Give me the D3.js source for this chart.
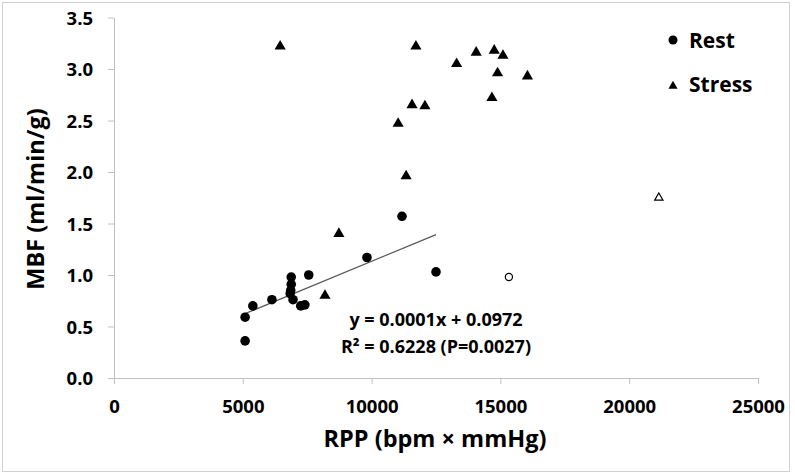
<!DOCTYPE html>
<html>
<head>
<meta charset="utf-8">
<script src="https://cdn.jsdelivr.net/npm/d3@7"></script>
<style>
  body { margin: 0; background: #fff; }
  svg { font-family: "Open Sans", "Liberation Sans", sans-serif; font-weight: bold; }
  .axis path, .axis line { stroke: #c0c0c0; }
  .axis text { font-size: 18.5px; font-weight: bold; fill: #000; font-family: "Open Sans", sans-serif; }
</style>
</head>
<body>
<svg id="chart" width="795" height="475"></svg>
<script>
// Rest (filled circles): RPP, MBF
const restRpp = [5090, 5090, 5390, 6130, 6880, 6880, 6860, 6840, 6950, 7250, 7410, 7560, 9820, 11180, 12500];
const restMbf = [0.59, 0.36, 0.70, 0.76, 0.98, 0.91, 0.85, 0.82, 0.76, 0.70, 0.71, 1.00, 1.17, 1.57, 1.03];
// Stress (filled triangles)
const stressRpp = [6450, 8190, 8730, 11030, 11340, 11570, 12070, 11720, 13300, 14060, 14760, 15100, 14890, 16050, 14670];
const stressMbf = [3.22, 0.80, 1.40, 2.47, 1.96, 2.65, 2.64, 3.22, 3.05, 3.16, 3.18, 3.13, 2.96, 2.93, 2.72];
// Outliers (open markers)
const outlierRest = [15330, 0.98];
const outlierStress = [21150, 1.75];
// Linear fit over rest points
const fitSlope = 0.0001036;
const fitIntercept = 0.0972;
const fitRange = [5090, 12500];
const xTicks = [0, 5000, 10000, 15000, 20000, 25000];
const yTicks = [0, 0.5, 1.0, 1.5, 2.0, 2.5, 3.0, 3.5];
const fitLabels = ['y = 0.0001x + 0.0972', 'R² = 0.6228 (P=0.0027)'];
const legendNames = ['Rest', 'Stress'];

const svg = d3.select('#chart');
const margin = { left: 114, right: 37, top: 17.5, bottom: 97 };
const width = 795 - margin.left - margin.right;
const height = 475 - margin.top - margin.bottom;

svg.append('rect')
  .attr('x', 2.5).attr('y', 2.5)
  .attr('width', 787).attr('height', 469)
  .attr('fill', 'none')
  .attr('stroke', '#d0d0d0');

const x = d3.scaleLinear().domain([0, 25000]).range([0, width]);
const y = d3.scaleLinear().domain([0, 3.5]).range([height, 0]);

const g = svg.append('g')
  .attr('transform', `translate(${margin.left},${margin.top})`);

g.append('g')
  .attr('class', 'axis')
  .attr('transform', `translate(0,${height})`)
  .call(d3.axisBottom(x).tickValues(xTicks).tickSize(6).tickSizeOuter(0).tickFormat(d3.format('d')))
  .call(a => a.selectAll('text').attr('y', 35).attr('dy', null));

g.append('g')
  .attr('class', 'axis')
  .call(d3.axisLeft(y).tickValues(yTicks).tickSize(6).tickSizeOuter(0).tickFormat(d3.format('.1f')))
  .call(a => a.selectAll('text').attr('x', -21).attr('dy', '0.36em'));

// trend line
g.append('line')
  .attr('x1', x(fitRange[0]))
  .attr('y1', y(fitSlope * fitRange[0] + fitIntercept))
  .attr('x2', x(fitRange[1]))
  .attr('y2', y(fitSlope * fitRange[1] + fitIntercept))
  .attr('stroke', '#595959')
  .attr('stroke-width', 1.2);

const tri = d3.symbol().type(d3.symbolTriangle).size(54);
const triSmall = d3.symbol().type(d3.symbolTriangle).size(30);

g.append('g').selectAll('circle')
  .data(restRpp.map((v, i) => [v, restMbf[i]]))
  .join('circle')
  .attr('cx', d => x(d[0]))
  .attr('cy', d => y(d[1]))
  .attr('r', 4.8)
  .attr('fill', '#000');

g.append('g').selectAll('path')
  .data(stressRpp.map((v, i) => [v, stressMbf[i]]))
  .join('path')
  .attr('d', tri)
  .attr('transform', d => `translate(${x(d[0])},${y(d[1])})`)
  .attr('fill', '#000');

g.append('circle')
  .attr('cx', x(outlierRest[0]))
  .attr('cy', y(outlierRest[1]))
  .attr('r', 3.6)
  .attr('fill', '#fff')
  .attr('stroke', '#000')
  .attr('stroke-width', 1.2);

g.append('path')
  .attr('d', triSmall)
  .attr('transform', `translate(${x(outlierStress[0])},${y(outlierStress[1])})`)
  .attr('fill', '#fff')
  .attr('stroke', '#000')
  .attr('stroke-width', 1.2);

// fit annotation
g.append('g').selectAll('text')
  .data(fitLabels)
  .join('text')
  .attr('x', x(12500))
  .attr('y', (d, i) => 308.5 + i * 27)
  .attr('text-anchor', 'middle')
  .style('font-size', '18px')
  .text(d => d);

// axis titles
svg.append('text')
  .attr('x', 435)
  .attr('y', 447)
  .attr('text-anchor', 'middle')
  .style('font-size', '23.5px')
  .text('RPP (bpm × mmHg)');

svg.append('text')
  .attr('transform', 'translate(44,199) rotate(-90)')
  .attr('text-anchor', 'middle')
  .style('font-size', '23.5px')
  .text('MBF (ml/min/g)');

// legend
const legend = svg.append('g').attr('transform', 'translate(673,40)');
legend.append('circle').attr('cx', 0).attr('cy', 0).attr('r', 4.5).attr('fill', '#000');
legend.append('path').attr('d', d3.symbol().type(d3.symbolTriangle).size(36))
  .attr('transform', 'translate(0,46)').attr('fill', '#000');
legend.selectAll('text')
  .data(legendNames)
  .join('text')
  .attr('x', 16)
  .attr('y', (d, i) => 7.5 + i * 44)
  .style('font-size', '21px')
  .text(d => d);
</script>
</body>
</html>
